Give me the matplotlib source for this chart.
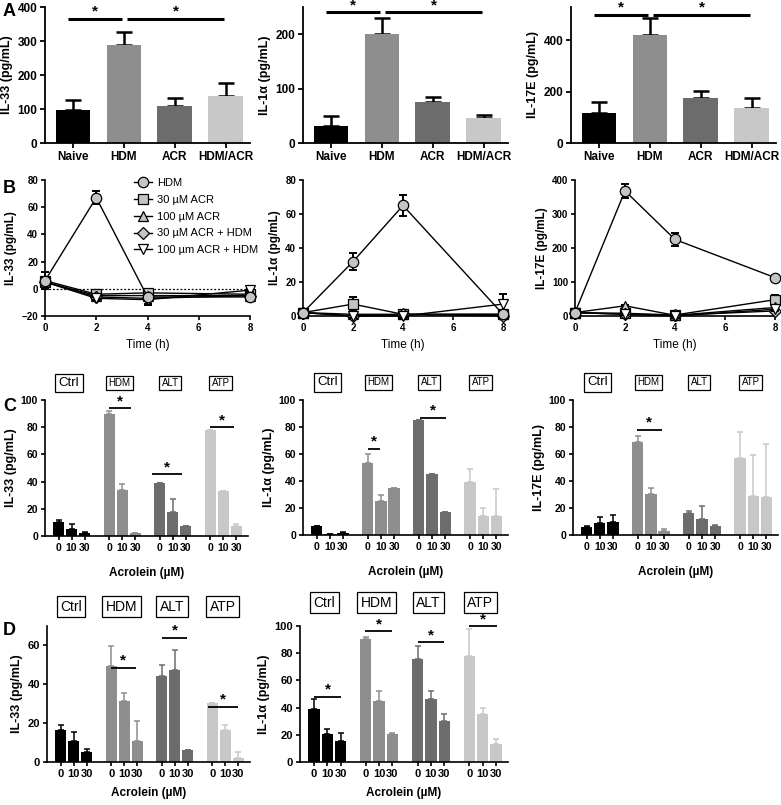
import numpy as np
import matplotlib
matplotlib.use("Agg")
import matplotlib.pyplot as plt

plt.rcParams['font.family'] = ['Liberation Sans', 'DejaVu Sans']

W, H = 781, 805

# ---------------- DATA ----------------
a_cats = ["Naive", "HDM", "ACR", "HDM/ACR"]
a_il33 = [97, 287, 108, 138]
a_il33_err = [30, 38, 25, 37]
a_il1a = [32, 200, 75, 46]
a_il1a_err = [17, 30, 10, 6]
a_il17e = [118, 420, 175, 137]
a_il17e_err = [42, 68, 27, 37]
a_sig = [365, 240, 500]

b_times = [0, 2, 4, 8]
b_series = ["HDM", "30 \u00b5M ACR", "100 \u00b5M ACR", "30 \u00b5M ACR + HDM", "100 \u00b5m ACR + HDM"]
b1_mean = [[6, 67, -6, -6], [6, -4, -3, -4], [5, -5, -5, -5], [5, -6, -7, -5], [5, -7, -8, -1]]
b1_err = [[6, 5, 5, 2], [2, 1, 1, 1], [1, 1, 1, 1], [1, 1, 1, 1], [1, 1, 4, 1]]
b2_mean = [[2, 32, 65, 1], [2, 7, 1, 1], [2, 1, 1, 1], [2, 0, 1, 0], [2, 0, 0, 7]]
b2_err = [[1, 5, 6, 1], [1, 4, 1, 1], [1, 1, 1, 1], [1, 1, 1, 1], [1, 1, 1, 6]]
b3_mean = [[10, 368, 225, 113], [10, 8, 3, 48], [10, 30, 2, 25], [10, 5, 2, 15], [10, 5, 0, 20]]
b3_err = [[3, 20, 18, 5], [3, 3, 2, 15], [3, 3, 2, 5], [3, 2, 2, 5], [3, 2, 2, 5]]

c_groups = ["Ctrl", "HDM", "ALT", "ATP"]
c_doses = ["0", "10", "30"]
c_il33 = [[10, 5, 2], [90, 34, 2], [39, 18, 7], [78, 33, 7]]
c_il33_err = [[2, 4, 1], [2, 4, 0], [0, 9, 0], [0, 0, 2]]
c_il1a = [[7, 1, 1.5], [53, 25, 35], [85, 45, 17], [39, 14, 14]]
c_il1a_err = [[0, 0, 1], [7, 4.5, 0], [0, 0, 0], [10, 6, 20]]
c_il17e = [[6, 9, 9.5], [69, 30.5, 3], [16.5, 12, 7], [57, 29, 28.5]]
c_il17e_err = [[0.5, 4, 5], [4, 4, 1.5], [1.5, 9.5, 0.5], [19, 30, 39]]
# significance: (group, start offset, end offset, height)
c_il33_sig = [(1, -1.05, 0.7, 94), (2, -1.6, 0.7, 45.5), (3, -1.0, 0.85, 80)]
c_il1a_sig = [(1, -1.0, -0.08, 64), (2, -0.92, 1.08, 87)]
c_il17e_sig = [(1, -1.08, 0.85, 78)]

d_il33 = [[16.5, 11, 5], [49.5, 31.5, 11], [44.5, 47.5, 6], [30.5, 16.5, 2]]
d_il33_err = [[2.5, 4.5, 1.5], [10, 4, 10], [5.5, 10, 0], [0, 2.5, 3]]
d_il1a = [[39, 20.5, 15.5], [90.5, 45, 20.5], [76, 46.5, 30], [78, 35, 13.5]]
d_il1a_err = [[7, 4, 6], [1.5, 7, 1], [9.5, 5.5, 5], [20, 4.5, 3.5]]
d_il33_sig = [(1, -1.04, 0.93, 48.6), (2, -0.96, 0.96, 64), (3, -1.33, 0.96, 28.5)]
d_il1a_sig = [(0, -0.96, 1.0, 48), (1, -1.04, 0.96, 96), (2, -1.0, 1.0, 88), (3, -1.0, 1.1, 100)]

colors4 = ["#000000", "#8e8e8e", "#6c6c6c", "#c8c8c8"]

fig = plt.figure(figsize=(W / 100, H / 100), dpi=100)


def ax_at(x0, y0, x1, y1):
    return fig.add_axes([x0 / W, 1 - y1 / H, (x1 - x0) / W, (y1 - y0) / H])


def style(ax, lw=1.3):
    for s in ["top", "right"]:
        ax.spines[s].set_visible(False)
    for s in ["left", "bottom"]:
        ax.spines[s].set_linewidth(lw)
    ax.tick_params(direction="out", length=3.5, width=lw, pad=2)


def sig(ax, x0, x1, y, lw=1.3, fs=11):
    ax.plot([x0, x1], [y, y], color="black", lw=lw, clip_on=False, solid_capstyle="butt")
    ax.text((x0 + x1) / 2, y, "*", ha="center", va="bottom", fontsize=fs,
            fontweight="bold", clip_on=False)


# ---------------- ROW A ----------------
a_specs = [
    ((45, 7, 250, 143), a_il33, a_il33_err, "IL-33 (pg/mL)", (0, 400), [0, 100, 200, 300, 400], a_sig[0]),
    ((303, 7, 508, 143), a_il1a, a_il1a_err, "IL-1\u03b1 (pg/mL)", (0, 250), [0, 100, 200], a_sig[1]),
    ((571, 7, 776, 143), a_il17e, a_il17e_err, "IL-17E (pg/mL)", (0, 530), [0, 200, 400], a_sig[2]),
]
for rect, vals, errs, ylab, ylim, yt, sy in a_specs:
    ax = ax_at(*rect)
    xs = np.arange(len(a_cats))
    ax.bar(xs, vals, width=0.68, color=colors4, zorder=2)
    ax.errorbar(xs, vals, yerr=[np.zeros(4), errs], fmt="none", ecolor="black",
                elinewidth=1.8, capsize=5.5, capthick=1.8, zorder=1)
    ax.set_xlim(-0.55, 3.48)
    ax.set_ylim(*ylim)
    ax.set_yticks(yt)
    ax.set_xticks(xs)
    ax.set_xticklabels(a_cats, fontsize=8.5, fontweight="bold")
    for t in ax.get_yticklabels():
        t.set_fontsize(8.5)
        t.set_fontweight("bold")
    ax.set_ylabel(ylab, fontsize=9, fontweight="bold", labelpad=3)
    style(ax)
    sig(ax, -0.1, 0.97, sy, lw=2.2)
    sig(ax, 1.06, 2.97, sy, lw=2.2)

# ---------------- ROW B ----------------
markers = ["o", "s", "^", "D", "v"]
mfcs = ["#c4c4c4", "#c4c4c4", "#c4c4c4", "#c4c4c4", "#ffffff"]
msizes = [7.5, 7, 7, 6, 7]
b_specs = [
    ((45, 180, 250, 316), b1_mean, b1_err, "IL-33 (pg/mL)", (-20, 80), [-20, 0, 20, 40, 60, 80]),
    ((303, 180, 503, 316), b2_mean, b2_err, "IL-1\u03b1 (pg/mL)", (0, 80), [0, 20, 40, 60, 80]),
    ((575, 180, 775, 316), b3_mean, b3_err, "IL-17E (pg/mL)", (0, 400), [0, 100, 200, 300, 400]),
]
for k, (rect, means, errs, ylab, ylim, yt) in enumerate(b_specs):
    ax = ax_at(*rect)
    handles = []
    if k == 0:
        ax.axhline(0, color="black", lw=0.9, ls=(0, (1.5, 1.5)))
    for i in range(len(b_series)):
        ax.errorbar(b_times, means[i], yerr=errs[i], fmt="none", ecolor="black",
                    elinewidth=1.4, capsize=3, capthick=1.4, clip_on=False, zorder=3)
        h, = ax.plot(b_times, means[i], color="black", lw=1.0, marker=markers[i],
                     ms=msizes[i], mfc=mfcs[i], mec="black", mew=0.9, clip_on=False,
                     zorder=4 if i == 0 else 3, label=b_series[i])
        handles.append(h)
    ax.set_xlim(0, 8)
    ax.set_ylim(*ylim)
    ax.set_yticks(yt)
    ax.set_xticks([0, 2, 4, 6, 8])
    for t in ax.get_xticklabels() + ax.get_yticklabels():
        t.set_fontsize(7)
        t.set_fontweight("bold")
    ax.set_xlabel("Time (h)", fontsize=8.5, labelpad=4)
    ax.set_ylabel(ylab, fontsize=8.5, fontweight="bold", labelpad=3)
    style(ax, lw=1.2)
    ax.tick_params(length=3)
    if k == 0:
        fig.legend(handles=handles, loc="upper left", bbox_to_anchor=(126 / W, 1 - 170 / H),
                   frameon=False, fontsize=8, handlelength=1.6, handletextpad=0.5,
                   labelspacing=0.62, borderpad=0.2)

# ---------------- ROWS C & D ----------------
GS = 3.9
offs = np.array([-1, 0, 1])


def grouped(rect, vals, errs, ylab, ylim, yt, sigs, box_y, box_fs, tick_fs, xlab_y):
    ax = ax_at(*rect)
    ticks = []
    for g in range(4):
        xs = g * GS + offs
        ticks.extend(xs)
        ax.bar(xs, vals[g], width=0.85, color=colors4[g], zorder=2)
        ax.errorbar(xs, vals[g], yerr=[np.zeros(3), errs[g]], fmt="none",
                    ecolor=colors4[g], elinewidth=1.1, capsize=2.2, capthick=1.1, zorder=1)
        fs = box_fs[g]
        ax.text(g * GS - 0.2, box_y, c_groups[g], transform=ax.get_xaxis_transform(),
                ha="center", va="center", fontsize=fs, clip_on=False,
                bbox=dict(boxstyle="square,pad=0.25", fc="white",
                          ec="black", lw=0.9))
    ax.set_xlim(-2.05, 13.6)
    ax.set_ylim(*ylim)
    ax.set_yticks(yt)
    ax.set_xticks(ticks)
    ax.set_xticklabels(c_doses * 4, fontsize=tick_fs, fontweight="bold")
    for t in ax.get_yticklabels():
        t.set_fontsize(tick_fs)
        t.set_fontweight("bold")
    ax.set_ylabel(ylab, fontsize=9, fontweight="bold", labelpad=3)
    ax.set_xlabel("Acrolein (\u00b5M)", fontsize=8.5, fontweight="bold", labelpad=xlab_y)
    style(ax, lw=1.2)
    ax.tick_params(length=3)
    for g, s0, s1, y in sigs:
        sig(ax, g * GS + s0, g * GS + s1, y, lw=1.3, fs=11)
    return ax


c_box_fs = [9.5, 7, 7, 7]
grouped((45, 400, 248, 536), c_il33, c_il33_err, "IL-33 (pg/mL)", (0, 100), [0, 20, 40, 60, 80, 100],
        c_il33_sig, 1.125, c_box_fs, 7.5, 10)
grouped((303, 400, 508, 535), c_il1a, c_il1a_err, "IL-1\u03b1 (pg/mL)", (0, 100), [0, 20, 40, 60, 80, 100],
        c_il1a_sig, 1.13, c_box_fs, 7.5, 10)
grouped((573, 400, 778, 535), c_il17e, c_il17e_err, "IL-17E (pg/mL)", (0, 100), [0, 20, 40, 60, 80, 100],
        c_il17e_sig, 1.13, c_box_fs, 7.5, 10)

d_box_fs = [10, 10, 10, 10]
grouped((47, 626, 250, 762), d_il33, d_il33_err, "IL-33 (pg/mL)", (0, 70), [0, 20, 40, 60],
        d_il33_sig, 1.14, d_box_fs, 8, 6)
grouped((300, 626, 508, 762), d_il1a, d_il1a_err, "IL-1\u03b1 (pg/mL)", (0, 100), [0, 20, 40, 60, 80, 100],
        d_il1a_sig, 1.17, d_box_fs, 8, 6)

# panel letters
for letter, y in [("A", 3), ("B", 180), ("C", 398), ("D", 622)]:
    fig.text(3 / W, 1 - y / H, letter, fontsize=13, fontweight="bold", va="top", ha="left")

fig.savefig("out.png", dpi=100)
